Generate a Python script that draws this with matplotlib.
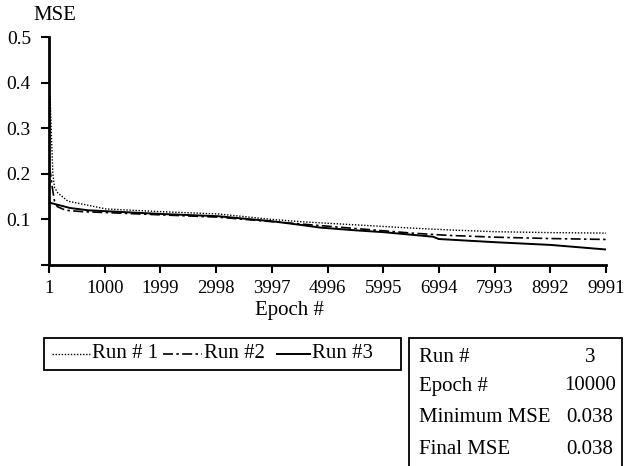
import matplotlib
matplotlib.use("Agg")
import matplotlib.pyplot as plt
from matplotlib.lines import Line2D
from matplotlib.patches import Rectangle

plt.rcParams['font.family'] = ['Liberation Serif', 'DejaVu Serif']

# Data
run1_epochs = [1, 20, 40, 70, 100, 160, 340, 1020, 2000, 3030, 4000, 4510, 5500, 6500, 7160, 8000, 9000, 9991]
run1_mse    = [0.20, 0.37, 0.30, 0.20, 0.17, 0.158, 0.14, 0.123, 0.117, 0.112, 0.10, 0.095, 0.088, 0.081, 0.077, 0.073, 0.071, 0.070]

run2_epochs = [1, 30, 60, 100, 150, 300, 600, 1020, 2000, 3030, 4000, 4510, 5500, 6500, 7160, 8000, 9000, 9991]
run2_mse    = [0.215, 0.20, 0.17, 0.14, 0.128, 0.12, 0.117, 0.115, 0.110, 0.105, 0.095, 0.090, 0.080, 0.070, 0.065, 0.061, 0.058, 0.056]

run3_epochs = [1, 380, 700, 1020, 2000, 3030, 4000, 4510, 4870, 5500, 6000, 6890, 6990, 8000, 9000, 9991]
run3_mse    = [0.137, 0.125, 0.12, 0.118, 0.112, 0.107, 0.096, 0.088, 0.082, 0.076, 0.072, 0.062, 0.057, 0.050, 0.044, 0.034]

xtick_vals = [1, 1000, 1999, 2998, 3997, 4996, 5995, 6994, 7993, 8992, 9991]
ytick_vals = [0.0, 0.1, 0.2, 0.3, 0.4, 0.5]
ytick_labels = ["", "0.1", "0.2", "0.3", "0.4", "0.5"]

table_labels = ["Run #", "Epoch #", "Minimum MSE", "Final MSE"]
table_values = ["3", "10000", "0.038", "0.038"]

legend_labels = ["Run # 1", "Run #2", "Run #3"]

W, H = 626, 466
fig = plt.figure(figsize=(W / 100, H / 100), dpi=100)
ax = fig.add_axes([49 / W, 1 - 265 / H, (606 - 49) / W, (265 - 37) / H])

ls1 = (0, (1, 1.2))
ls2 = (0, (6, 2, 1.5, 2))
ax.plot(run1_epochs, run1_mse, color='black', lw=1.0, linestyle=ls1)
ax.plot(run2_epochs, run2_mse, color='black', lw=1.2, linestyle=ls2)
ax.plot(run3_epochs, run3_mse, color='black', lw=1.4, linestyle='-')

ax.set_xlim(1, 9991)
ax.set_ylim(0, 0.5)
ax.set_xticks(xtick_vals)
ax.set_xticklabels([str(v) for v in xtick_vals], fontsize=13.5)
ax.set_yticks(ytick_vals)
ax.set_yticklabels(ytick_labels, fontsize=14)
for s in ['top', 'right']:
    ax.spines[s].set_visible(False)
for s in ['left', 'bottom']:
    ax.spines[s].set_linewidth(2.0)
ax.tick_params(axis='both', direction='out', length=6, width=1.5)
ax.tick_params(axis='y', pad=7)
ax.tick_params(axis='x', pad=5)

fig.text(33 / W, 1 - 15 / H, "MSE", fontsize=15, ha='left', va='center')
fig.text(289 / W, 1 - 311 / H, "Epoch #", fontsize=15, ha='center', va='center')

# Legend box
fig.patches.append(Rectangle((44 / W, 1 - 370 / H), (401 - 44) / W, (370 - 338) / H,
                             transform=fig.transFigure, fill=False, edgecolor='black', lw=1.3))
ly = 1 - 354 / H
styles = [(ls1, 1.0), (ls2, 1.2), ('-', 1.4)]
segs = [(52, 90), (163, 202), (277, 310)]
for (ls, lw), (x0, x1), lab in zip(styles, segs, legend_labels):
    fig.lines.append(Line2D([x0 / W, x1 / W], [ly, ly], transform=fig.transFigure,
                            color='black', linestyle=ls, lw=lw))
    fig.text((x1 + 2) / W, ly, lab, fontsize=15, ha='left', va='center')

# Info table box
fig.patches.append(Rectangle((409 / W, -0.01), (622 - 409) / W, (1 - 338 / H) + 0.01,
                             transform=fig.transFigure, fill=False, edgecolor='black', lw=1.3,
                             clip_on=False))
rows_y = [357, 386, 418, 449]
vals_y = [357, 386, 418, 450]
for y, yv, lab, val in zip(rows_y, vals_y, table_labels, table_values):
    fig.text(419 / W, 1 - y / H, lab, fontsize=15, ha='left', va='center')
    fig.text(590 / W, 1 - yv / H, val, fontsize=15, ha='center', va='center')

fig.savefig("out.png", dpi=100)
